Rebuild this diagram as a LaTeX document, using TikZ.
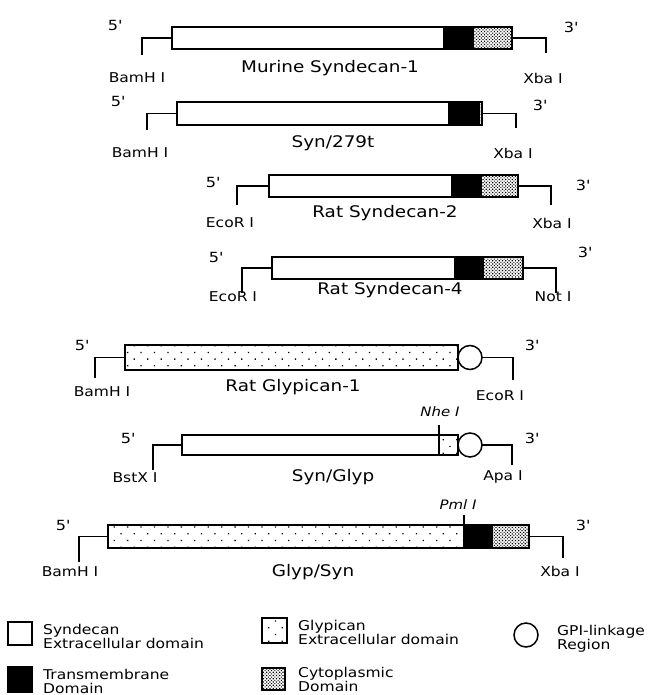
\documentclass[tikz,border=0pt]{standalone}
\usepackage{fontspec}
\setmainfont{DejaVu Sans}[FakeStretch=1.15]
\usetikzlibrary{patterns.meta}

\begin{document}
\begin{tikzpicture}[x=1pt, y=-1pt,
    syn/.style={rectangle, draw, fill=white, line width=1.7pt, inner sep=0pt, outer sep=0pt, anchor=north west},
    tm/.style={syn, fill=black},
    cyto/.style={syn, pattern={Dots[distance=2.3pt, radius=0.8pt, angle=45]}},
    glyp/.style={syn, pattern={Dots[distance=9.5pt, radius=0.9pt, angle=45]}},
    gpi/.style={circle, draw, fill=white, line width=1.5pt, minimum size=24pt, inner sep=0pt, outer sep=0pt},
    leader/.style={line width=1.5pt},
    tag/.style={font=\fontsize{13.5}{13.5}\selectfont, inner sep=0pt},
    prime/.style={font=\fontsize{14}{14}\selectfont, inner sep=0pt},
    site/.style={font=\fontsize{13}{13}\selectfont\itshape, inner sep=0pt},
    construct/.style={font=\fontsize{16}{16}\selectfont, inner sep=0pt, anchor=base},
    legtext/.style={font=\fontsize{13.5}{14}\selectfont, align=left, inner sep=0pt, anchor=base west}
]
    \useasboundingbox (0,0) rectangle (648,695);

    % Murine Syndecan-1
    \node[syn, minimum width=272pt, minimum height=22pt] (ms1e) at (172,27) {};
    \node[tm, minimum width=29pt, minimum height=22pt] (ms1t) at (444,27) {};
    \node[cyto, minimum width=39pt, minimum height=22pt] (ms1c) at (473,27) {};
    \coordinate (ms1l) at (142,55);
    \coordinate (ms1r) at (546,53);
    \draw[leader] (ms1e.west) -| (ms1l);
    \draw[leader] (ms1c.east) -| (ms1r);
    \node[prime] (ms1five) at (115,25) {5\textquotesingle};
    \node[prime] (ms1three) at (571,27) {3\textquotesingle};
    \node[construct] (ms1name) at (330,73) {Murine Syndecan-1};
    \node[tag] (ms1bam) at (137,78) {BamH I};
    \node[tag] (ms1xba) at (543,78) {Xba I};

    % Syn/279t
    \node[syn, minimum width=272pt, minimum height=23pt] (s279e) at (177,102) {};
    \node[tm, minimum width=30pt, minimum height=23pt] (s279t) at (449,102) {};
    \node[cyto, minimum width=3pt, minimum height=23pt] (s279c) at (479,102) {};
    \coordinate (s279l) at (147,130);
    \coordinate (s279r) at (516,128);
    \draw[leader] (s279e.west) -| (s279l);
    \draw[leader] (s279c.east) -| (s279r);
    \node[prime] (s279five) at (118,101) {5\textquotesingle};
    \node[prime] (s279three) at (540,105) {3\textquotesingle};
    \node[construct] (s279name) at (333,148) {Syn/279t};
    \node[tag] (s279bam) at (140,153) {BamH I};
    \node[tag] (s279xba) at (513,153) {Xba I};

    % Rat Syndecan-2
    \node[syn, minimum width=183pt, minimum height=22pt] (rs2e) at (269,175) {};
    \node[tm, minimum width=29pt, minimum height=22pt] (rs2t) at (452,175) {};
    \node[cyto, minimum width=37pt, minimum height=22pt] (rs2c) at (481,175) {};
    \coordinate (rs2l) at (237,205);
    \coordinate (rs2r) at (551,205);
    \draw[leader] (rs2e.west) -| (rs2l);
    \draw[leader] (rs2c.east) -| (rs2r);
    \node[prime] (rs2five) at (213,182) {5\textquotesingle};
    \node[prime] (rs2three) at (583,185) {3\textquotesingle};
    \node[construct] (rs2name) at (385,217) {Rat Syndecan-2};
    \node[tag] (rs2eco) at (230,223) {EcoR I};
    \node[tag] (rs2xba) at (552,223) {Xba I};

    % Rat Syndecan-4
    \node[syn, minimum width=183pt, minimum height=22pt] (rs4e) at (272,257) {};
    \node[tm, minimum width=28pt, minimum height=22pt] (rs4t) at (455,257) {};
    \node[cyto, minimum width=40pt, minimum height=22pt] (rs4c) at (483,257) {};
    \coordinate (rs4l) at (242,293);
    \coordinate (rs4r) at (556,293);
    \draw[leader] (rs4e.west) -| (rs4l);
    \draw[leader] (rs4c.east) -| (rs4r);
    \node[prime] (rs4five) at (216,257) {5\textquotesingle};
    \node[prime] (rs4three) at (585,252) {3\textquotesingle};
    \node[construct] (rs4name) at (390,294) {Rat Syndecan-4};
    \node[tag] (rs4eco) at (233,297) {EcoR I};
    \node[tag] (rs4not) at (553,297) {Not I};

    % Rat Glypican-1
    \node[glyp, minimum width=333pt, minimum height=25pt] (rg1g) at (125,345) {};
    \node[gpi] (rg1o) at (470,357.5) {};
    \coordinate (rg1l) at (95,378);
    \coordinate (rg1r) at (513,380);
    \draw[leader] (rg1g.west) -| (rg1l);
    \draw[leader] (rg1o.east) -| (rg1r);
    \node[prime] (rg1five) at (82,345) {5\textquotesingle};
    \node[prime] (rg1three) at (532,345) {3\textquotesingle};
    \node[construct] (rg1name) at (293,391) {Rat Glypican-1};
    \node[tag] (rg1bam) at (102,392) {BamH I};
    \node[tag] (rg1eco) at (500,396) {EcoR I};

    % Syn/Glyp
    \node[syn, minimum width=257pt, minimum height=20pt] (sge) at (182,435) {};
    \node[glyp, minimum width=19pt, minimum height=20pt] (sgg) at (439,435) {};
    \node[gpi] (sgo) at (470,445) {};
    \coordinate (sgl) at (153,470);
    \coordinate (sgr) at (512,465);
    \coordinate (sgnhe) at (439,425);
    \draw[leader] (sge.west) -| (sgl);
    \draw[leader] (sgo.east) -| (sgr);
    \draw[leader] (sgg.north west) -- (sgnhe);
    \node[site] (sgnhelabel) at (440,412) {Nhe I};
    \node[prime] (sgfive) at (128,438) {5\textquotesingle};
    \node[prime] (sgthree) at (532,438) {3\textquotesingle};
    \node[construct] (sgname) at (333,481) {Syn/Glyp};
    \node[tag] (sgbst) at (135,478) {BstX I};
    \node[tag] (sgapa) at (503,477) {Apa I};

    % Glyp/Syn
    \node[glyp, minimum width=356pt, minimum height=23pt] (gsg) at (108,525) {};
    \node[tm, minimum width=28pt, minimum height=23pt] (gst) at (464,525) {};
    \node[cyto, minimum width=37pt, minimum height=23pt] (gsc) at (492,525) {};
    \coordinate (gsl) at (79,562);
    \coordinate (gsr) at (563,558);
    \coordinate (gspml) at (464,515);
    \draw[leader] (gsg.west) -| (gsl);
    \draw[leader] (gsc.east) -| (gsr);
    \draw[leader] (gst.north west) -- (gspml);
    \node[site] (gspmllabel) at (458,505) {Pml I};
    \node[prime] (gsfive) at (63,525) {5\textquotesingle};
    \node[prime] (gsthree) at (583,525) {3\textquotesingle};
    \node[construct] (gsname) at (313,576) {Glyp/Syn};
    \node[tag] (gsbam) at (70,572) {BamH I};
    \node[tag] (gsxba) at (560,571) {Xba I};

    % Legend
    \node[syn, minimum width=24pt, minimum height=23pt] (keysyn) at (8,622) {};
    \node[legtext] (keysyntext) at (43,648) {Syndecan\\Extracellular domain};
    \node[tm, minimum width=24pt, minimum height=25pt] (keytm) at (8,667) {};
    \node[legtext] (keytmtext) at (43,693) {Transmembrane\\Domain};
    \node[glyp, minimum width=25pt, minimum height=25pt] (keyglyp) at (262,618) {};
    \node[legtext] (keyglyptext) at (298,644) {Glypican\\Extracellular domain};
    \node[cyto, minimum width=23pt, minimum height=22pt] (keycyto) at (262,668) {};
    \node[legtext] (keycytotext) at (298,691) {Cytoplasmic\\Domain};
    \node[gpi] (keygpi) at (526,635) {};
    \node[legtext] (keygpitext) at (557,649) {GPI-linkage\\Region};
\end{tikzpicture}
\end{document}
